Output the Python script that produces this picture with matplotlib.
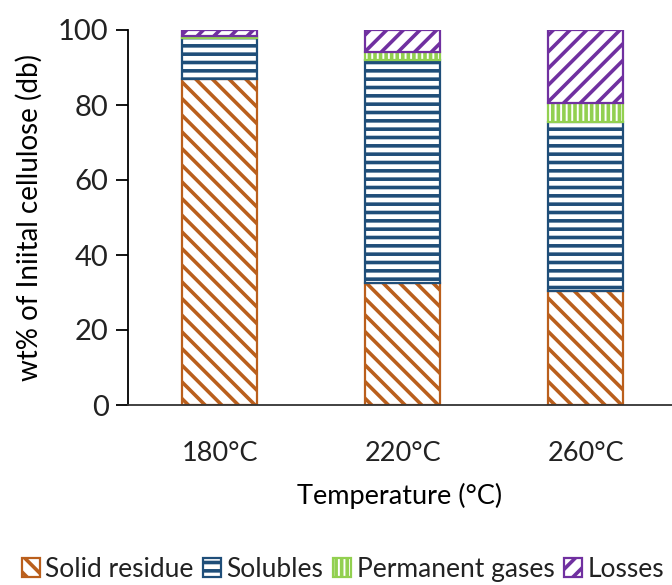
import numpy as np
import matplotlib.pyplot as plt
from matplotlib.patches import Patch

plt.rcParams['font.family'] = ['Lato', 'DejaVu Sans']
plt.rcParams['hatch.linewidth'] = 2.6
plt.rcParams['text.color'] = '#222222'

temps = ['180°C', '220°C', '260°C']
solid_residue = [87.0, 32.5, 30.5]
solubles = [11.0, 59.5, 45.0]
permanent_gases = [0.4, 2.2, 5.0]
losses = [1.6, 5.8, 19.5]

series = [
    ('Solid residue', solid_residue, '#BA5F1C', '\\\\'),
    ('Solubles', solubles, '#1F4E79', '--'),
    ('Permanent gases', permanent_gases, '#92D050', '|||'),
    ('Losses', losses, '#7030A0', '//'),
]

fig = plt.figure(figsize=(6.72, 5.85), dpi=100)
ax = fig.add_axes([128 / 672, 180 / 585, 544 / 672, 375 / 585])

x = np.arange(len(temps))
bottom = np.zeros(len(temps))
handles = []
for name, vals, color, hatch in series:
    ax.bar(x, vals, width=0.41, bottom=bottom, facecolor='white',
           edgecolor=color, hatch=hatch, linewidth=1.6)
    bottom += np.array(vals)
    handles.append(Patch(facecolor='white', edgecolor=color, hatch=hatch,
                         linewidth=1.6, label=name))

ax.set_xlim(-0.5, 2.47)
ax.set_ylim(0, 100)
ax.set_yticks(np.arange(0, 101, 20))
ax.set_xticks(x)
ax.set_xticklabels(temps)

for s in ['top', 'right']:
    ax.spines[s].set_visible(False)
ax.spines['left'].set_linewidth(1.3)
ax.spines['bottom'].set_linewidth(1.3)
ax.spines['bottom'].set_color('#333333')

ax.tick_params(axis='y', direction='out', length=9, width=1.3, labelsize=21,
               pad=5, labelcolor='#222222')
ax.tick_params(axis='x', length=0, labelsize=19.5, pad=26, labelcolor='#222222')

ax.set_ylabel('wt% of Iniital cellulose (db)', fontsize=20, labelpad=11)
ax.set_xlabel('Temperature (°C)', fontsize=19.5, labelpad=12)

fig.legend(handles=handles, loc='center', bbox_to_anchor=(0.51, 0.027), ncol=4,
           frameon=False, fontsize=19, handlelength=0.7, handleheight=0.7,
           handletextpad=0.2, columnspacing=0.35, borderaxespad=0)

fig.savefig('out.png', dpi=100)
